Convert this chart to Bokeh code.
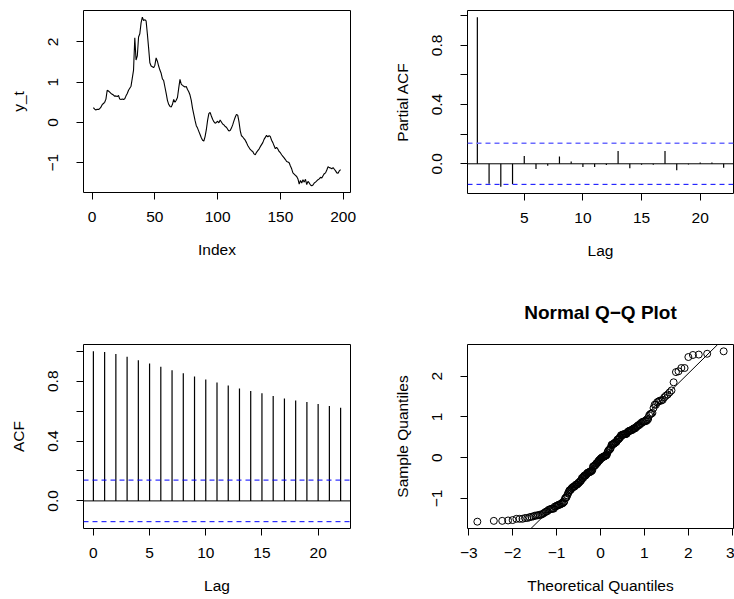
import statistics
import numpy as np
from bokeh.plotting import figure
from bokeh.layouts import gridplot
from bokeh.models import Range1d, FixedTicker, Span, Slope, LinearAxis
from bokeh.embed import file_html
from bokeh.resources import INLINE

# ---------------- data ----------------
y_t = [
    0.37, 0.33, 0.31, 0.33, 0.32, 0.34, 0.38, 0.44, 0.47, 0.50,
    0.58, 0.80, 0.78, 0.75, 0.72, 0.70, 0.68, 0.65, 0.66, 0.64,
    0.67, 0.58, 0.57, 0.58, 0.57, 0.59, 0.66, 0.72, 0.80, 0.85,
    0.90, 1.10, 1.30, 2.10, 1.55, 1.65, 2.12, 2.20, 2.47, 2.61,
    2.53, 2.55, 2.52, 2.20, 1.85, 1.48, 1.40, 1.38, 1.36, 1.42,
    1.60, 1.52, 1.40, 1.30, 1.22, 1.08, 1.04, 0.88, 0.72, 0.55,
    0.45, 0.40, 0.38, 0.45, 0.57, 0.50, 0.55, 0.62, 0.85, 1.07,
    0.95, 0.92, 0.90, 0.88, 0.89, 0.82, 0.76, 0.68, 0.55, 0.35,
    0.20, 0.05, -0.08, -0.14, -0.22, -0.30, -0.38, -0.44, -0.46, -0.35,
    -0.18, 0.05, 0.22, 0.25, 0.16, 0.08, 0.02, -0.02, 0.00, 0.03,
    -0.01, 0.06, 0.01, -0.04, -0.06, -0.10, -0.12, -0.17, -0.21, -0.20,
    -0.14, -0.06, 0.04, 0.13, 0.20, 0.18, 0.02, -0.20, -0.33, -0.36,
    -0.40, -0.44, -0.50, -0.57, -0.62, -0.67, -0.70, -0.72, -0.78, -0.80,
    -0.74, -0.70, -0.66, -0.60, -0.55, -0.50, -0.42, -0.37, -0.32, -0.36,
    -0.33, -0.35, -0.44, -0.50, -0.58, -0.65, -0.62, -0.66, -0.72, -0.75,
    -0.80, -0.84, -0.88, -0.92, -0.97, -0.98, -1.00, -1.08, -1.15, -1.25,
    -1.28, -1.31, -1.34, -1.40, -1.53, -1.44, -1.50, -1.42, -1.48, -1.41,
    -1.54, -1.46, -1.50, -1.55, -1.57, -1.55, -1.50, -1.48, -1.45, -1.42,
    -1.40, -1.36, -1.38, -1.32, -1.27, -1.25, -1.18, -1.10, -1.12, -1.13,
    -1.15, -1.12, -1.16, -1.20, -1.25, -1.26, -1.20, -1.17,
]
index = list(range(1, len(y_t) + 1))

acf_lags = list(range(0, 23))
acf_vals = [1.000, 0.995, 0.982, 0.964, 0.941, 0.919, 0.897, 0.874, 0.854,
            0.831, 0.811, 0.791, 0.771, 0.752, 0.735, 0.719, 0.701, 0.685,
            0.672, 0.661, 0.647, 0.634, 0.622]

pacf_lags = list(range(1, 23))
pacf_vals = [0.990, -0.135, -0.155, -0.137, 0.052, -0.036, -0.013, 0.049,
             0.016, -0.022, -0.022, -0.009, 0.087, -0.031, -0.007, -0.007,
             0.087, -0.043, -0.004, 0.009, 0.009, -0.027]

conf_limit = 0.139

ts_xticks = [0, 50, 100, 150, 200]
ts_yticks = [-1, 0, 1, 2]
pacf_xticks = [5, 10, 15, 20]
acf_xticks = [0, 5, 10, 15, 20]
cor_yticks = [0.0, 0.2, 0.4, 0.6, 0.8, 1.0]
cor_ylabels = {0.0: "0.0", 0.2: "", 0.4: "0.4", 0.6: "", 0.8: "0.8", 1.0: ""}
qq_xticks = [-3, -2, -1, 0, 1, 2, 3]
qq_yticks = [-1, 0, 1, 2]

# ---------------- helpers ----------------
FONT = "Liberation Sans"
FS = "15.5px"


def rrange(lo, hi):
    d = (hi - lo) * 0.04
    return Range1d(lo - d, hi + d)


def minus(vals):
    return {v: ("\u2212" + str(abs(v))) for v in vals if v < 0}


def make_fig(left, fw, right, top, fh, bottom, xr, yr):
    p = figure(frame_width=fw, frame_height=fh,
               min_border_left=left, min_border_right=right,
               min_border_top=top, min_border_bottom=bottom,
               x_range=xr, y_range=yr,
               output_backend="svg", toolbar_location=None)
    p.grid.visible = False
    p.outline_line_color = "black"
    p.outline_line_width = 1
    p.outline_line_alpha = 1
    p.background_fill_color = "white"
    p.border_fill_color = "white"
    for ax in (p.xaxis[0], p.yaxis[0]):
        ax.axis_line_color = None
        ax.major_tick_line_color = "black"
        ax.major_tick_line_width = 1
        ax.major_tick_in = 0
        ax.major_tick_out = 7
        ax.minor_tick_line_color = None
        ax.major_label_text_font = FONT
        ax.major_label_text_font_size = FS
        ax.major_label_text_color = "black"
        ax.axis_label_text_font = FONT
        ax.axis_label_text_font_size = FS
        ax.axis_label_text_font_style = "normal"
        ax.axis_label_text_color = "black"
    p.yaxis.major_label_orientation = "vertical"
    p.xaxis.major_label_standoff = 12
    p.yaxis.major_label_standoff = 18
    p.xaxis.axis_label_standoff = 16
    p.yaxis.axis_label_standoff = 19
    return p


# ---------------- panel 1: series ----------------
p1 = make_fig(83, 267, 17, 10, 182, 98,
              rrange(min(index), max(index)), rrange(min(y_t), max(y_t)))
p1.line(index, y_t, line_color="black", line_width=1.1)
p1.xaxis.ticker = FixedTicker(ticks=ts_xticks)
p1.yaxis.ticker = FixedTicker(ticks=ts_yticks)
p1.yaxis.major_label_overrides = minus(ts_yticks)
p1.xaxis.axis_label = "Index"
p1.yaxis.axis_label = "y_t"

# ---------------- panel 2: PACF ----------------
plo = min(min(pacf_vals), -conf_limit)
phi = max(max(pacf_vals), conf_limit)
p2 = make_fig(100, 266, 1, 9, 183, 98,
              rrange(min(pacf_lags), max(pacf_lags)), rrange(plo, phi))
p2.segment(x0=pacf_lags, y0=[0] * len(pacf_lags), x1=pacf_lags, y1=pacf_vals,
           line_color="black", line_width=1.2)
p2.add_layout(Span(location=0, dimension="width", line_color="black", line_width=1))
p2.add_layout(Span(location=conf_limit, dimension="width", line_color="#6b6bff",
                   line_width=1.6, line_dash="5 4"))
p2.add_layout(Span(location=-conf_limit, dimension="width", line_color="blue",
                   line_width=1, line_dash="5 4"))
p2.xaxis.ticker = FixedTicker(ticks=pacf_xticks)
p2.yaxis.ticker = FixedTicker(ticks=cor_yticks)
p2.yaxis.major_label_overrides = cor_ylabels
p2.xaxis.axis_label = "Lag"
p2.yaxis.axis_label = "Partial ACF"

# ---------------- panel 3: ACF ----------------
alo = min(min(acf_vals), -conf_limit)
ahi = max(max(acf_vals), conf_limit)
p3 = make_fig(83, 267, 17, 54, 184, 71,
              rrange(min(acf_lags), max(acf_lags)), rrange(alo, ahi))
p3.segment(x0=acf_lags, y0=[0] * len(acf_lags), x1=acf_lags, y1=acf_vals,
           line_color="black", line_width=1.2)
p3.add_layout(Span(location=0, dimension="width", line_color="black", line_width=1))
p3.add_layout(Span(location=conf_limit, dimension="width", line_color="blue",
                   line_width=1, line_dash="5 4"))
p3.add_layout(Span(location=-conf_limit, dimension="width", line_color="blue",
                   line_width=1, line_dash="5 4"))
p3.xaxis.ticker = FixedTicker(ticks=acf_xticks)
p3.yaxis.ticker = FixedTicker(ticks=cor_yticks)
p3.yaxis.major_label_overrides = cor_ylabels
p3.xaxis.axis_label = "Lag"
p3.yaxis.axis_label = "ACF"

# ---------------- panel 4: normal Q-Q ----------------
n = len(y_t)
nd = statistics.NormalDist()
theo = [nd.inv_cdf((i - 0.5) / n) for i in range(1, n + 1)]
samp = sorted(y_t)
q1, q3 = np.quantile(np.array(y_t), [0.25, 0.75])
x1, x3 = nd.inv_cdf(0.25), nd.inv_cdf(0.75)
slope = (q3 - q1) / (x3 - x1)
intercept = q1 - slope * x1

qx = rrange(min(theo), max(theo))
qy = rrange(min(samp), max(samp))
p4 = make_fig(100, 266, 1, 54, 184, 71, qx, qy)
p4.scatter(theo, samp, marker="circle", size=7, fill_color=None,
           line_color="black", line_width=1)
p4.add_layout(Slope(gradient=slope, y_intercept=intercept, line_color="black",
                    line_width=1))
p4.xaxis.ticker = FixedTicker(ticks=qq_xticks)
p4.yaxis.ticker = FixedTicker(ticks=qq_yticks)
p4.xaxis.major_label_overrides = minus(qq_xticks)
p4.yaxis.major_label_overrides = minus(qq_yticks)
p4.xaxis.axis_label = "Theoretical Quantiles"
p4.yaxis.axis_label = "Sample Quantiles"

# main title drawn as the label of a bare axis above the plot box
title_axis = LinearAxis(ticker=FixedTicker(ticks=[]),
                        axis_label="Normal Q\u2212Q Plot",
                        axis_line_color=None, major_tick_line_color=None,
                        minor_tick_line_color=None, major_tick_in=0,
                        major_tick_out=0, major_label_standoff=0,
                        axis_label_standoff=22,
                        axis_label_text_font=FONT,
                        axis_label_text_font_size="19px",
                        axis_label_text_font_style="bold",
                        axis_label_text_color="black")
p4.add_layout(title_axis, "above")

grid = gridplot([[p1, p2], [p3, p4]], toolbar_location=None)

open("out.html", "w").write(file_html(grid, INLINE))
